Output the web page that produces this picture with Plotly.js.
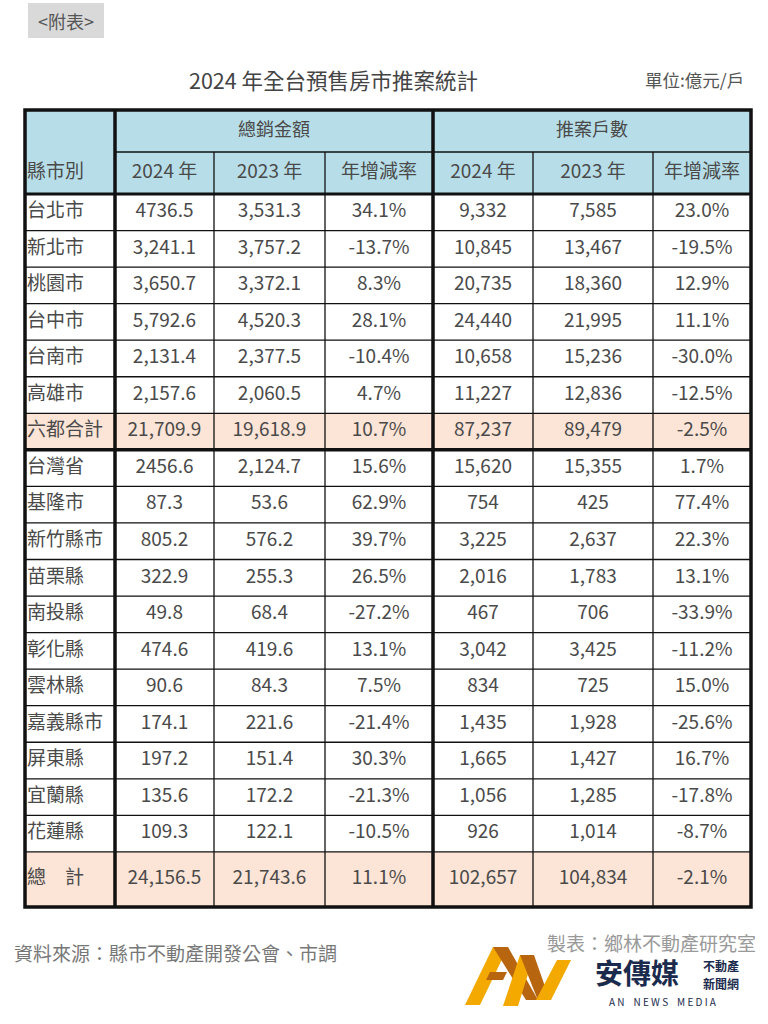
<!DOCTYPE html>
<html>
<head>
<meta charset="utf-8">
<script src="https://cdn.plot.ly/plotly-3.0.1.min.js"></script>
<style>
  body { margin: 0; background: #fff; }
  #myDiv { width: 768px; height: 1024px; }
</style>
</head>
<body>
<div id="myDiv"></div>
<script>
//---------------------- TABLE DATA ---------------------------
var regions = ['台北市', '新北市', '桃園市', '台中市', '台南市', '高雄市', '六都合計',
  '台灣省', '基隆市', '新竹縣市', '苗栗縣', '南投縣', '彰化縣', '雲林縣', '嘉義縣市',
  '屏東縣', '宜蘭縣', '花蓮縣', '總　計'];

var sales2024 = ['4736.5', '3,241.1', '3,650.7', '5,792.6', '2,131.4', '2,157.6', '21,709.9',
  '2456.6', '87.3', '805.2', '322.9', '49.8', '474.6', '90.6', '174.1',
  '197.2', '135.6', '109.3', '24,156.5'];
var sales2023 = ['3,531.3', '3,757.2', '3,372.1', '4,520.3', '2,377.5', '2,060.5', '19,618.9',
  '2,124.7', '53.6', '576.2', '255.3', '68.4', '419.6', '84.3', '221.6',
  '151.4', '172.2', '122.1', '21,743.6'];
var salesRate = ['34.1%', '-13.7%', '8.3%', '28.1%', '-10.4%', '4.7%', '10.7%',
  '15.6%', '62.9%', '39.7%', '26.5%', '-27.2%', '13.1%', '7.5%', '-21.4%',
  '30.3%', '-21.3%', '-10.5%', '11.1%'];

var units2024 = ['9,332', '10,845', '20,735', '24,440', '10,658', '11,227', '87,237',
  '15,620', '754', '3,225', '2,016', '467', '3,042', '834', '1,435',
  '1,665', '1,056', '926', '102,657'];
var units2023 = ['7,585', '13,467', '18,360', '21,995', '15,236', '12,836', '89,479',
  '15,355', '425', '2,637', '1,783', '706', '3,425', '725', '1,928',
  '1,427', '1,285', '1,014', '104,834'];
var unitsRate = ['23.0%', '-19.5%', '12.9%', '11.1%', '-30.0%', '-12.5%', '-2.5%',
  '1.7%', '77.4%', '22.3%', '13.1%', '-33.9%', '-11.2%', '15.0%', '-25.6%',
  '16.7%', '-17.8%', '-8.7%', '-2.1%'];

var groupHeads = ['總銷金額', '推案戶數'];
var subHeads = ['2024 年', '2023 年', '年增減率', '2024 年', '2023 年', '年增減率'];
var pinkRows = ['六都合計', '總　計'];

//---------------------- GEOMETRY (pixels) ---------------------------
var colEdges = [25, 115, 214, 325, 433, 533, 653, 751];
var headTop = 110, headMid = 152, headBot = 194;
var rowH = 36.55;
var tableBot = 907;

function rowTop(i) { return headBot + i * rowH; }
function rowBot(i) { return i == regions.length - 1 ? tableBot : rowTop(i + 1); }
function rowMid(i) { return (rowTop(i) + rowBot(i)) / 2; }
function colMid(c) { return (colEdges[c] + colEdges[c + 1]) / 2; }

var txtColor = '#4a4a4a';
var fam = '"Noto Sans CJK TC", "Noto Sans", sans-serif';

var shapes = [];
// header background
shapes.push({type: 'rect', xref: 'x', yref: 'y', x0: colEdges[0], x1: colEdges[7], y0: headTop, y1: headBot,
  fillcolor: '#b7dee8', line: {width: 0}, layer: 'below'});
// pink rows
regions.forEach(function (r, i) {
  if (pinkRows.indexOf(r) >= 0) {
    shapes.push({type: 'rect', xref: 'x', yref: 'y', x0: colEdges[0], x1: colEdges[7], y0: rowTop(i), y1: rowBot(i),
      fillcolor: '#fce4d6', line: {width: 0}, layer: 'below'});
  }
});

function hline(y, x0, x1, w) {
  shapes.push({type: 'line', xref: 'x', yref: 'y', x0: x0, x1: x1, y0: y, y1: y, line: {color: '#111', width: w}});
}
function vline(x, y0, y1, w) {
  shapes.push({type: 'line', xref: 'x', yref: 'y', x0: x, x1: x, y0: y0, y1: y1, line: {color: '#111', width: w}});
}

// thin row lines
for (var i = 1; i < regions.length; i++) {
  if (regions[i - 1] == '六都合計') continue;
  hline(rowTop(i), colEdges[0], colEdges[7], 1.3);
}
hline(headMid, colEdges[1], colEdges[7], 1.3);
// thin column lines
[2, 3, 5, 6].forEach(function (c) { vline(colEdges[c], headMid, tableBot, 1.3); });
// thick lines
hline(headBot, colEdges[0], colEdges[7], 3);
hline(rowTop(regions.indexOf('台灣省')), colEdges[0], colEdges[7], 3.5);
vline(colEdges[1], headTop, tableBot, 3.5);
vline(colEdges[4], headTop, tableBot, 3.5);
shapes.push({type: 'rect', xref: 'x', yref: 'y', x0: colEdges[0], x1: colEdges[7], y0: headTop, y1: tableBot,
  line: {color: '#111', width: 3.5}});

// "<附表>" tag box
shapes.push({type: 'rect', xref: 'x', yref: 'y', x0: 28, x1: 104, y0: 3, y1: 38,
  fillcolor: '#d9d9d9', line: {width: 0}, layer: 'below'});

// logo strokes
var orange = '#f4a900', brown = '#b8650f';
var logoPaths = [
  ['M465,1005 L480,1005 L508,947 L493,947 Z', orange],
  ['M493,947 L508,947 L538,1000 L526,1000 Z', brown],
  ['M486,980 L503,980 L507,972 L490,972 Z', brown],
  ['M503,1006 L518,1006 L534,955 L520,955 Z', orange],
  ['M520,955 L534,955 L549,998 L537,998 Z', brown],
  ['M536,1000 L551,1000 L571,960 L557,960 Z', orange]
];
logoPaths.forEach(function (p) {
  shapes.push({type: 'path', xref: 'x', yref: 'y', path: p[0], fillcolor: p[1], line: {width: 0}});
});

//---------------------- TEXT TRACES ---------------------------
var data = [];
function textTrace(xs, ys, texts, pos, size, color) {
  data.push({
    x: xs, y: ys, text: texts, mode: 'text', type: 'scatter',
    textposition: pos, hoverinfo: 'skip', showlegend: false,
    textfont: {family: fam, size: size, color: color || txtColor}
  });
}
var ys = regions.map(function (r, i) { return rowMid(i); });
function fill(v) { return regions.map(function () { return v; }); }

textTrace(fill(colEdges[0] + 2), ys, regions, 'middle right', 19);
[sales2024, sales2023, salesRate, units2024, units2023, unitsRate].forEach(function (col, c) {
  textTrace(fill(colMid(c + 1)), ys, col, 'middle center', 19);
});

// headers
textTrace([(colEdges[1] + colEdges[4]) / 2, (colEdges[4] + colEdges[7]) / 2],
  [(headTop + headMid) / 2, (headTop + headMid) / 2], groupHeads, 'middle center', 18);
textTrace(subHeads.map(function (s, c) { return colMid(c + 1); }),
  subHeads.map(function () { return (headMid + headBot) / 2; }), subHeads, 'middle center', 19);
textTrace([colEdges[0] + 2], [(headMid + headBot) / 2], ['縣市別'], 'middle right', 19);

var annotations = [
  {x: 66, y: 21, text: '<附表>', size: 18, color: '#555'},
  {x: 333, y: 79, text: '2024 年全台預售房市推案統計', size: 21.5, color: '#444'},
  {x: 746, y: 79, text: '單位:億元/戶', size: 17.5, color: '#555', anchor: 'right'},
  {x: 12, y: 952, text: '資料來源：縣市不動產開發公會、市調', size: 19, color: '#777', anchor: 'left'},
  {x: 758, y: 942, text: '製表：鄉林不動產研究室', size: 19, color: '#999', anchor: 'right'},
  {x: 637, y: 972, text: '<b>安傳媒</b>', size: 28, color: '#1b2b4d'},
  {x: 721, y: 965, text: '<b>不動產</b>', size: 12, color: '#1b2b4d'},
  {x: 721, y: 983, text: '<b>新聞網</b>', size: 12, color: '#1b2b4d'},
  {x: 663, y: 1001, text: 'A N    N E W S    M E D I A', size: 10, color: '#1b2b4d'}
].map(function (a) {
  return {
    x: a.x, y: a.y, xref: 'x', yref: 'y', text: a.text, showarrow: false,
    xanchor: a.anchor || 'center', yanchor: 'middle',
    font: {family: fam, size: a.size, color: a.color}
  };
});

var layout = {
  width: 768,
  height: 1024,
  margin: {l: 0, r: 0, t: 0, b: 0},
  paper_bgcolor: '#ffffff',
  plot_bgcolor: '#ffffff',
  xaxis: {range: [0, 768], visible: false, fixedrange: true},
  yaxis: {range: [1024, 0], visible: false, fixedrange: true},
  shapes: shapes,
  annotations: annotations
};

Plotly.newPlot('myDiv', data, layout, {staticPlot: true, displayModeBar: false});
</script>
</body>
</html>
